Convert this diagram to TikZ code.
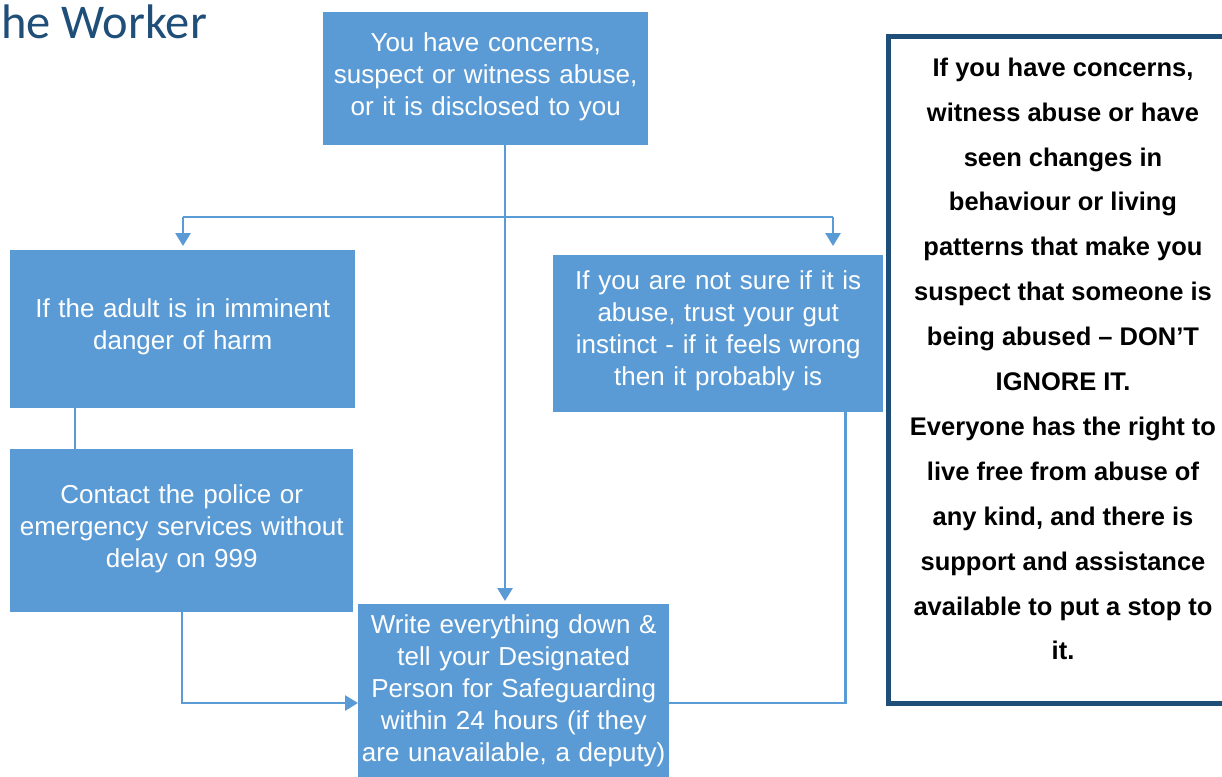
\documentclass[tikz,border=0pt]{standalone}
\usepackage{fontspec}
\setmainfont{Liberation Sans}
\newfontfamily\titlefont{Carlito}
\usetikzlibrary{arrows.meta}
\definecolor{boxblue}{HTML}{5B9BD5}
\definecolor{darkblue}{HTML}{1F4E79}
\tikzset{
  box/.style={fill=boxblue, text=white, inner sep=0pt, anchor=north west, align=center,
    font=\fontsize{26}{32}\selectfont},
  conn/.style={draw=boxblue, line width=2.8pt},
  arr/.style={conn, -{Triangle[length=13pt,width=15pt]}},
}
\begin{document}
\begin{tikzpicture}[x=1pt,y=-1pt]
\useasboundingbox (0,0) rectangle (1222,776);
\node[anchor=base west, text=darkblue, inner sep=0pt, font=\titlefont\fontsize{48.5}{50}\selectfont] (title) at (1,38) {he Worker};
\node[box, minimum width=325pt, minimum height=133pt, text width=315pt] (top) at (323,12) {You have concerns,\\suspect or witness abuse,\\or it is disclosed to you\vspace{4pt}};
\node[box, minimum width=345pt, minimum height=158pt, text width=335pt] (left1) at (10,250) {If the adult is in imminent\\danger of harm\vspace{4pt}};
\node[box, minimum width=343pt, minimum height=163pt, text width=335pt] (left2) at (10,449) {Contact the police or\\emergency services without\\delay on 999\vspace{4pt}};
\node[box, minimum width=330pt, minimum height=157pt, text width=322pt] (right) at (553,255) {If you are not sure if it is\\abuse, trust your gut\\instinct - if it feels wrong\\then it probably is\vspace{6pt}};
\node[box, minimum width=311pt, minimum height=174pt, text width=308pt] (bot) at (358,604) {Write everything down \&\\tell your Designated\\Person for Safeguarding\\within 24 hours (if they\\are unavailable, a deputy)};
\node[draw=darkblue, line width=5pt, fill=white, anchor=north west, minimum width=360pt, minimum height=666pt] (side) at (885.5,34.5) {};
\node[align=center, font=\bfseries\fontsize{25.5}{44.9}\selectfont, text=black] (sidetext) at (1063,359) {If you have concerns,\\witness abuse or have\\seen changes in\\behaviour or living\\patterns that make you\\suspect that someone is\\being abused – DON’T\\IGNORE IT.\\Everyone has the right to\\live free from abuse of\\any kind, and there is\\support and assistance\\available to put a stop to\\it.};
\coordinate (jn) at (505,217);
\coordinate (jl) at (183,217);
\coordinate (jr) at (833,217);
\draw[conn] (top.south -| jn) -- (jn);
\draw[conn] (jl) -- (jr);
\draw[arr, shorten >=4pt] (jl) -- (jl |- left1.north);
\draw[arr, shorten >=9pt] (jr) -- (jr |- right.north);
\draw[arr, shorten >=3pt] (top.south -| jn) -- (bot.north -| jn);
\draw[conn] ([xshift=65pt]left1.south west) -- ([xshift=65pt]left2.north west);
\draw[arr] ([xshift=172pt]left2.south west) |- ([yshift=-99pt]bot.north west);
\draw[conn] ([xshift=-38pt]right.south east) |- ([yshift=-99pt]bot.north east);
\end{tikzpicture}
\end{document}
